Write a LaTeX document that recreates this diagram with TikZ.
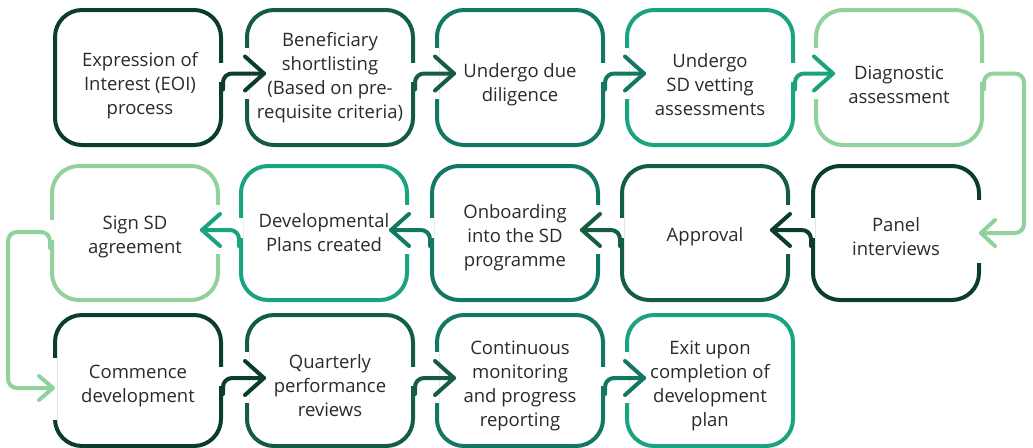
\documentclass[tikz,border=0pt]{standalone}
\usepackage{fontspec}
\setmainfont{Open Sans}
\usetikzlibrary{calc}
\definecolor{cA}{HTML}{0B3D2B}
\definecolor{cB}{HTML}{145E3F}
\definecolor{cC}{HTML}{127864}
\definecolor{cD}{HTML}{1AA37F}
\definecolor{cE}{HTML}{90D19C}
\definecolor{txtc}{HTML}{2A2A2A}
\tikzset{
 boxst/.style={draw=#1, line width=4pt, rounded corners=27pt, minimum width=166pt, inner sep=0pt},
 conn/.style={draw=#1, line width=4pt, rounded corners=9pt, line cap=round, line join=round},
 tipst/.style={draw=#1, line width=4pt, line cap=round, line join=round},
 txt/.style={text=txtc, align=center, font=\fontsize{18.5}{24}\selectfont, inner sep=0pt},
}
\newcommand{\rconn}[4]{%
 \fill[white] ($(#1.east)+(-4,#4+11)$) rectangle ($(#1.east)+(4,#4-8)$);
 \fill[white] ($(#2.west)+(-4,#4+26)$) rectangle ($(#2.west)+(4,#4-25)$);
 \draw[conn=#3] ($(#1.east)+(0,#4-16)$) -- ($(#1.east)+(0,#4)$) -- ($(#2.west)+(19,#4)$);
 \draw[tipst=#3] ($(#2.west)+(0,#4+17)$) -- ($(#2.west)+(19,#4)$) -- ($(#2.west)+(0,#4-17)$);
}
\newcommand{\lconn}[4]{%
 \fill[white] ($(#1.west)+(-4,#4+12)$) rectangle ($(#1.west)+(4,#4-8)$);
 \fill[white] ($(#2.east)+(-4,#4+25)$) rectangle ($(#2.east)+(4,#4-24)$);
 \draw[conn=#3] ($(#1.west)+(0,#4-16)$) -- ($(#1.west)+(0,#4)$) -- ($(#2.east)+(-18,#4)$);
 \draw[tipst=#3] ($(#2.east)+(0,#4+16)$) -- ($(#2.east)+(-18,#4)$) -- ($(#2.east)+(0,#4-16)$);
}
\begin{document}
\begin{tikzpicture}[x=1pt,y=1pt]
\useasboundingbox (0,0) rectangle (1033,-447);
% row 1
\node[boxst=cA, minimum height=135pt] (b11) at (138,-77.5) {};
\node[boxst=cB, minimum height=135pt] (b12) at (330,-77.5) {};
\node[boxst=cC, minimum height=135pt] (b13) at (520,-77.5) {};
\node[boxst=cD, minimum height=135pt] (b14) at (710,-77.5) {};
\node[boxst=cE, minimum height=135pt] (b15) at (899,-77.5) {};
% row 2
\node[boxst=cE, minimum height=134pt] (b21) at (135,-233) {};
\node[boxst=cD, minimum height=134pt] (b22) at (324,-233) {};
\node[boxst=cC, minimum height=134pt] (b23) at (515,-233) {};
\node[boxst=cB, minimum height=134pt] (b24) at (705,-233) {};
\node[boxst=cA, minimum height=134pt] (b25) at (896,-233) {};
% row 3
\node[boxst=cA, minimum height=131pt] (b31) at (138,-380.5) {};
\node[boxst=cB, minimum height=131pt] (b32) at (330,-380.5) {};
\node[boxst=cC, minimum height=131pt] (b33) at (520,-380.5) {};
\node[boxst=cD, minimum height=131pt] (b34) at (710,-380.5) {};
% texts
\node[txt] (t11) at ($(b11)+(2,-8)$) {Expression of\\Interest (EOI)\\process};
\node[txt] (t12) at ($(b12)+(0,0)$) {Beneficiary\\shortlisting\\(Based on pre-\\requisite criteria)};
\node[txt] (t13) at ($(b13)+(0,-7.5)$) {Undergo due\\diligence};
\node[txt] (t14) at ($(b14)+(0,-7.5)$) {Undergo\\SD vetting\\assessments};
\node[txt] (t15) at ($(b15)+(0,-7.5)$) {Diagnostic\\assessment};
\node[txt] (t21) at ($(b21)+(0,-4)$) {Sign SD\\agreement};
\node[txt] (t22) at ($(b22)+(0,0)$) {Developmental\\Plans created};
\node[txt] (t23) at ($(b23)+(0,-5)$) {Onboarding\\into the SD\\programme};
\node[txt] (t24) at ($(b24)+(0,-4)$) {Approval};
\node[txt] (t25) at ($(b25)+(0,-4)$) {Panel\\interviews};
\node[txt] (t31) at ($(b31)+(0,-5.5)$) {Commence\\development};
\node[txt] (t32) at ($(b32)+(0,-5.5)$) {Quarterly\\performance\\reviews};
\node[txt] (t33) at ($(b33)+(0,-5.5)$) {Continuous\\monitoring\\and progress\\reporting};
\node[txt] (t34) at ($(b34)+(0,-5.5)$) {Exit upon\\completion of\\development\\plan};
% connectors row 1
\rconn{b11}{b12}{cA}{4}
\rconn{b12}{b13}{cB}{4}
\rconn{b13}{b14}{cC}{4}
\rconn{b14}{b15}{cD}{4}
% loop 1
\fill[white] ($(b15.east)+(-4,4+11)$) rectangle ($(b15.east)+(4,4-8)$);
\fill[white] ($(b25.east)+(-4,33)$) rectangle ($(b25.east)+(4,-30)$);
\draw[conn=cE] ($(b15.east)+(0,4-16)$) -- ($(b15.east)+(0,4)$) -- ($(b15.east)+(40,4)$) |- (b25.east);
\draw[tipst=cE] ($(b25.east)+(14,13)$) -- (b25.east) -- ($(b25.east)+(14,-13)$);
% connectors row 2
\lconn{b25}{b24}{cA}{3}
\lconn{b24}{b23}{cB}{3}
\lconn{b23}{b22}{cC}{3}
\lconn{b22}{b21}{cD}{3}
% loop 2
\fill[white] ($(b21.west)+(-4,1+12)$) rectangle ($(b21.west)+(4,1-8)$);
\fill[white] ($(b31.west)+(-4,22.5)$) rectangle ($(b31.west)+(4,-39.5)$);
\draw[conn=cE] ($(b21.west)+(0,1-16)$) -- ($(b21.west)+(0,1)$) -- ($(b21.west)+(-42,1)$) |- ($(b31.west)+(0,-7.5)$);
\draw[tipst=cE] ($(b31.west)+(-14,-7.5+12)$) -- ($(b31.west)+(0,-7.5)$) -- ($(b31.west)+(-14,-7.5-12)$);
% connectors row 3
\rconn{b31}{b32}{cA}{2.5}
\rconn{b32}{b33}{cB}{2.5}
\rconn{b33}{b34}{cC}{2.5}
\end{tikzpicture}
\end{document}
